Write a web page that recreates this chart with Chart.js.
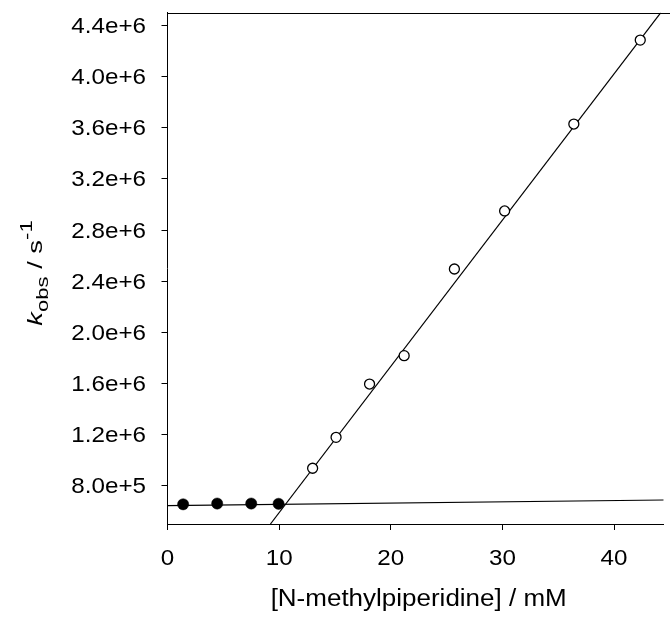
<!DOCTYPE html>
<html>
<head>
<meta charset="utf-8">
<script src="https://cdn.jsdelivr.net/npm/chart.js@4/dist/chart.umd.min.js"></script>
<style>
html,body{margin:0;padding:0;background:#fff;overflow:hidden;}
canvas{display:block;}
</style>
</head>
<body>
<canvas id="c" width="670" height="619"></canvas>
<script>
// ---- data ----
const filledX = [1.4, 4.45, 7.5, 9.95];
const filledY = [654000, 660000, 660000, 658000];
const openX = [13.0, 15.1, 18.1, 21.2, 25.7, 30.2, 36.4, 42.35];
const openY = [936000, 1178000, 1595000, 1817000, 2495000, 2949000, 3629000, 4286000];
// fitted straight lines (end points)
const flatFitX = [0, 44.45];
const flatFitY = [643000, 687900];
const steepFitX = [9.22, 44.19];
const steepFitY = [500000, 4500000];
// axes
const xTicks = [0, 10, 20, 30, 40];
const xTickLabels = ['0', '10', '20', '30', '40'];
const yTicks = [800000, 1200000, 1600000, 2000000, 2400000, 2800000, 3200000, 3600000, 4000000, 4400000];
const yTickLabels = ['8.0e+5', '1.2e+6', '1.6e+6', '2.0e+6', '2.4e+6', '2.8e+6', '3.2e+6', '3.6e+6', '4.0e+6', '4.4e+6'];
const xTitle = '[N-methylpiperidine] / mM';
const yTitleParts = ['k', 'obs', ' / s', '-1'];

const pts = (xs, ys) => xs.map((x, i) => ({x: x, y: ys[i]}));
const FONT = '"Liberation Sans", Arial, sans-serif';

const textPlugin = {
  id: 'texts',
  afterDraw(chart) {
    const ctx = chart.ctx;
    const xs = chart.scales.x, ys = chart.scales.y, ca = chart.chartArea;
    ctx.save();
    // top frame line
    ctx.strokeStyle = '#000';
    ctx.lineWidth = 1;
    ctx.beginPath();
    ctx.moveTo(ca.left, Math.round(ca.top) + 0.5);
    ctx.lineTo(chart.width, Math.round(ca.top) + 0.5);
    ctx.stroke();

    ctx.fillStyle = '#000';
    const stretched = (txt, x, y, font, sx, align, base) => {
      ctx.save();
      ctx.translate(x, y);
      ctx.scale(sx, 1);
      ctx.font = font;
      ctx.textAlign = align;
      ctx.textBaseline = base;
      ctx.fillText(txt, 0, 0);
      ctx.restore();
    };
    // y tick labels
    yTicks.forEach((v, i) => {
      stretched(yTickLabels[i], ca.left - 21.5, ys.getPixelForValue(v) + 1.5, '22px ' + FONT, 1.1, 'right', 'middle');
    });
    // x tick labels
    xTicks.forEach((v, i) => {
      stretched(xTickLabels[i], xs.getPixelForValue(v), ca.bottom + 35, '22px ' + FONT, 1.1, 'center', 'middle');
    });
    // x title
    stretched(xTitle, xs.getPixelForValue(22.5), ca.bottom + 82, '23px ' + FONT, 1.13, 'center', 'alphabetic');

    // y title (rotated, with subscript / superscript), laid out sequentially
    const fonts = ['italic 21px ' + FONT, '17px ' + FONT, '21px ' + FONT, '17px ' + FONT];
    const shifts = [0, 6, 0, -10];
    const SX = 1.3;
    const widths = yTitleParts.map((t, i) => { ctx.font = fonts[i]; return ctx.measureText(t).width; });
    const total = widths.reduce((a, b) => a + b, 0) * SX;
    ctx.save();
    ctx.translate(42, 273);
    ctx.rotate(-Math.PI / 2);
    ctx.textAlign = 'left';
    ctx.textBaseline = 'alphabetic';
    let pos = -total / 2;
    yTitleParts.forEach((t, i) => {
      ctx.save();
      ctx.translate(pos, shifts[i]);
      ctx.scale(SX, 1);
      ctx.font = fonts[i];
      ctx.fillText(t, 0, 0);
      ctx.restore();
      pos += widths[i] * SX;
    });
    ctx.restore();
    ctx.restore();
  }
};

new Chart(document.getElementById('c'), {
  type: 'scatter',
  data: {
    datasets: [
      {
        label: 'open', data: pts(openX, openY), showLine: false,
        pointRadius: 5, pointHoverRadius: 5, pointBackgroundColor: '#fff',
        pointBorderColor: '#000', pointBorderWidth: 1.3
      },
      {
        label: 'filled', data: pts(filledX, filledY), showLine: false,
        pointRadius: 5.6, pointHoverRadius: 5.6, pointBackgroundColor: '#000',
        pointBorderColor: '#000', pointBorderWidth: 0.5
      },
      {
        label: 'fit1', data: pts(flatFitX, flatFitY), showLine: true, pointRadius: 0,
        borderColor: '#000', borderWidth: 1.2, clip: 0
      },
      {
        label: 'fit2', data: pts(steepFitX, steepFitY), showLine: true, pointRadius: 0,
        borderColor: '#000', borderWidth: 1.2, clip: 0
      }
    ]
  },
  options: {
    responsive: false,
    animation: false,
    events: [],
    layout: {padding: {left: 161.5, top: 12.7, right: 0, bottom: 89}},
    plugins: {legend: {display: false}, tooltip: {enabled: false}, title: {display: false}},
    scales: {
      x: {
        type: 'linear', position: 'bottom', min: 0, max: 44.45,
        afterBuildTicks: (s) => { s.ticks = xTicks.map(v => ({value: v})); },
        ticks: {display: false},
        grid: {display: true, drawOnChartArea: false, drawTicks: true, tickLength: 6, color: '#000', lineWidth: 1},
        border: {display: true, color: '#000', width: 1}
      },
      y: {
        type: 'linear', position: 'left', min: 500000, max: 4500000,
        afterBuildTicks: (s) => { s.ticks = yTicks.map(v => ({value: v})); },
        ticks: {display: false},
        grid: {display: true, drawOnChartArea: false, drawTicks: true, tickLength: 6, color: '#000', lineWidth: 1},
        border: {display: true, color: '#000', width: 1}
      }
    }
  },
  plugins: [textPlugin]
});
</script>
</body>
</html>
